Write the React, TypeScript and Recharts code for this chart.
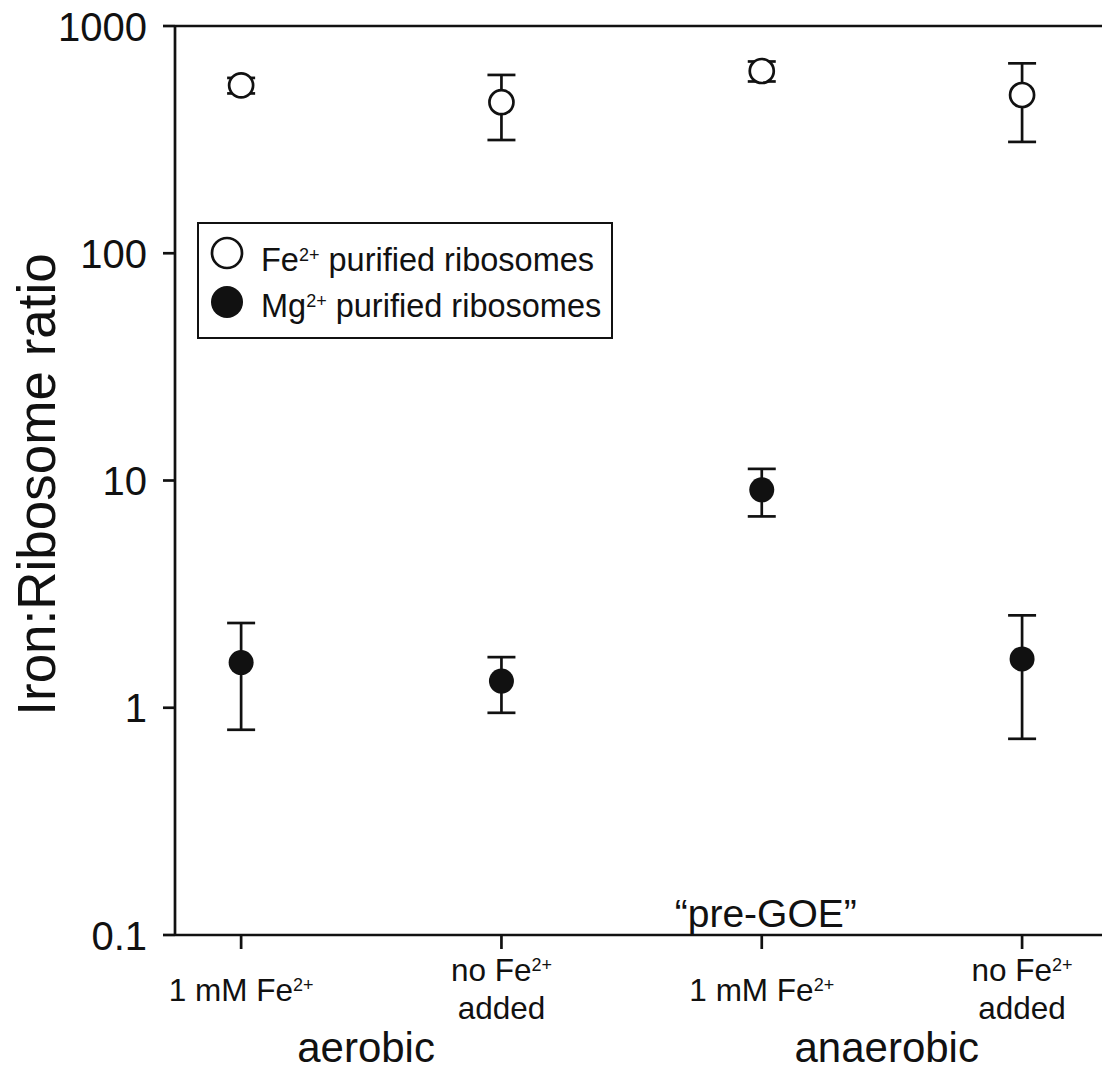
import { ScatterChart, Scatter, XAxis, YAxis, ErrorBar, ReferenceLine, ReferenceDot, Legend } from "recharts";

// condition positions on the x axis and their labels ("^" = superscript, "|" = line break)
const positions = [1, 2, 3, 4];
const conditions = ["1 mM Fe^2+", "no Fe^2+|added", "1 mM Fe^2+", "no Fe^2+|added"];
const notes = ["", "", "\u201Cpre-GOE\u201D", ""];
const groups = ["aerobic", "anaerobic"];
const groupCenters = [1.48, 3.48];

// Fe2+ purified ribosomes (open circles)
const feMean = [548, 462, 634, 497];
const feErr = [43, 147, 64, 188];
// Mg2+ purified ribosomes (filled circles)
const mgMean = [1.58, 1.31, 9.1, 1.64];
const mgErr = [0.78, 0.36, 2.15, 0.91];

const yTicks = [0.1, 1, 10, 100, 1000];
const seriesIons = ["Fe", "Mg"];
const seriesFills = ["#fff", "#000"];
const yLabel = "Iron:Ribosome ratio";

const FONT = '"Liberation Sans", Arial, Helvetica, sans-serif';
const INK = "#111";
const LINE = 2.7;

const feData = positions.map((x, i) => ({ x, y: feMean[i], err: feErr[i] }));
const mgData = positions.map((x, i) => ({ x, y: mgMean[i], err: mgErr[i] }));

const SupText = ({ x, y, text, size, supSize, supRise }: any) => {
  const [main, sup] = text.split("^");
  return (
    <text x={x} y={y} textAnchor="middle" fontSize={size} fontFamily={FONT} fill={INK}>
      {main}
      {sup && (
        <tspan fontSize={supSize} dy={-supRise}>
          {sup}
        </tspan>
      )}
    </text>
  );
};

const XTick = ({ x, y, payload }: any) => {
  const i = positions.indexOf(payload.value);
  if (i < 0) return null;
  const lines = conditions[i].split("|");
  const offsets = lines.length === 1 ? [52] : [32, 70];
  return (
    <g>
      {lines.map((ln, k) => (
        <SupText key={k} x={x} y={y + offsets[k]} text={ln} size={31.5} supSize={18} supRise={10} />
      ))}
      {notes[i] && (
        <text x={x + 4} y={y - 22} textAnchor="middle" fontSize={39} fontFamily={FONT} fill={INK}>
          {notes[i]}
        </text>
      )}
    </g>
  );
};

const YTick = ({ x, y, payload }: any) => (
  <text x={x} y={y} dy={14.5} textAnchor="end" fontSize={40} fontFamily={FONT} fill={INK}>
    {String(payload.value)}
  </text>
);

const YTitle = ({ viewBox }: any) => {
  const cx = viewBox.x + 55;
  const cy = viewBox.y + viewBox.height / 2 + 4;
  return (
    <text
      x={cx}
      y={cy}
      transform={`rotate(-90 ${cx} ${cy})`}
      textAnchor="middle"
      fontSize={53}
      fontFamily={FONT}
      fill={INK}
    >
      {yLabel}
    </text>
  );
};

const OpenDot = ({ cx, cy }: any) => (
  <circle cx={cx} cy={cy} r={12} fill="#fff" stroke={INK} strokeWidth={LINE} />
);
const FilledDot = ({ cx, cy }: any) => <circle cx={cx} cy={cy} r={12.5} fill={INK} />;

const LegendBox = ({ payload }: any) => {
  const items =
    payload && payload.length
      ? payload.map((p: any, i: number) => ({ ion: p.value, fill: seriesFills[i] ?? p.color }))
      : seriesIons.map((ion, i) => ({ ion, fill: seriesFills[i] }));
  const dotY = [29, 78];
  const textY = [47, 93];
  return (
    <div
      style={{
        width: 416,
        height: 117,
        border: `2.7px solid ${INK}`,
        boxSizing: "border-box",
        background: "#fff",
      }}
    >
      <svg width={411} height={112} style={{ display: "block" }}>
        {items.map((it: any, i: number) => (
          <g key={it.ion}>
            <circle
              cx={28}
              cy={dotY[i]}
              r={it.fill === "#fff" ? 15 : 16}
              fill={it.fill === "#fff" ? "#fff" : INK}
              stroke={INK}
              strokeWidth={it.fill === "#fff" ? LINE : 0}
            />
            <text x={62} y={textY[i]} fontSize={32.5} fontFamily={FONT} fill={INK}>
              {it.ion}
              <tspan fontSize={18} dy={-10}>
                2+
              </tspan>
              <tspan dy={10}> purified ribosomes</tspan>
            </text>
          </g>
        ))}
      </svg>
    </div>
  );
};

export default function App() {
  return (
    <div style={{ position: "absolute", left: 0, top: 0, background: "#fff" }}>
      <ScatterChart width={1102} height={1072} margin={{ top: 26, right: 0, bottom: 0, left: 0 }}>
        <XAxis
          xAxisId="main"
          dataKey="x"
          type="number"
          domain={[0.746, 4.307]}
          ticks={positions}
          allowDataOverflow
          interval={0}
          height={137}
          tickSize={14}
          tickMargin={0}
          axisLine={{ stroke: INK, strokeWidth: LINE }}
          tickLine={{ stroke: INK, strokeWidth: LINE }}
          tick={<XTick />}
        />
        <YAxis
          dataKey="y"
          type="number"
          scale="log"
          domain={[0.1, 1000]}
          ticks={yTicks}
          allowDataOverflow
          interval={0}
          width={175}
          tickSize={12}
          tickMargin={16}
          axisLine={{ stroke: INK, strokeWidth: LINE }}
          tickLine={{ stroke: INK, strokeWidth: LINE }}
          tick={<YTick />}
          label={<YTitle />}
        />
        <ReferenceLine xAxisId="main" y={1000} stroke={INK} strokeWidth={LINE} />
        {groupCenters.map((gx, i) => (
          <ReferenceDot
            key={groups[i]}
            xAxisId="main"
            x={gx}
            y={yTicks[0]}
            r={0}
            ifOverflow="visible"
            shape={(p: any) => (
              <text x={p.cx} y={p.cy + 127} textAnchor="middle" fontSize={42} fontFamily={FONT} fill={INK}>
                {groups[i]}
              </text>
            )}
          />
        ))}
        <Legend
          layout="vertical"
          align="center"
          verticalAlign="middle"
          wrapperStyle={{ left: 197, top: 222, width: 416, height: 117 }}
          content={<LegendBox />}
        />
        <Scatter
          name={seriesIons[0]}
          xAxisId="main"
          data={feData}
          fill={seriesFills[0]}
          shape={<OpenDot />}
          isAnimationActive={false}
        >
          <ErrorBar dataKey="err" direction="y" width={14} stroke={INK} strokeWidth={LINE} isAnimationActive={false} />
        </Scatter>
        <Scatter
          name={seriesIons[1]}
          xAxisId="main"
          data={mgData}
          fill={seriesFills[1]}
          shape={<FilledDot />}
          isAnimationActive={false}
        >
          <ErrorBar dataKey="err" direction="y" width={14} stroke={INK} strokeWidth={LINE} isAnimationActive={false} />
        </Scatter>
      </ScatterChart>
    </div>
  );
}
